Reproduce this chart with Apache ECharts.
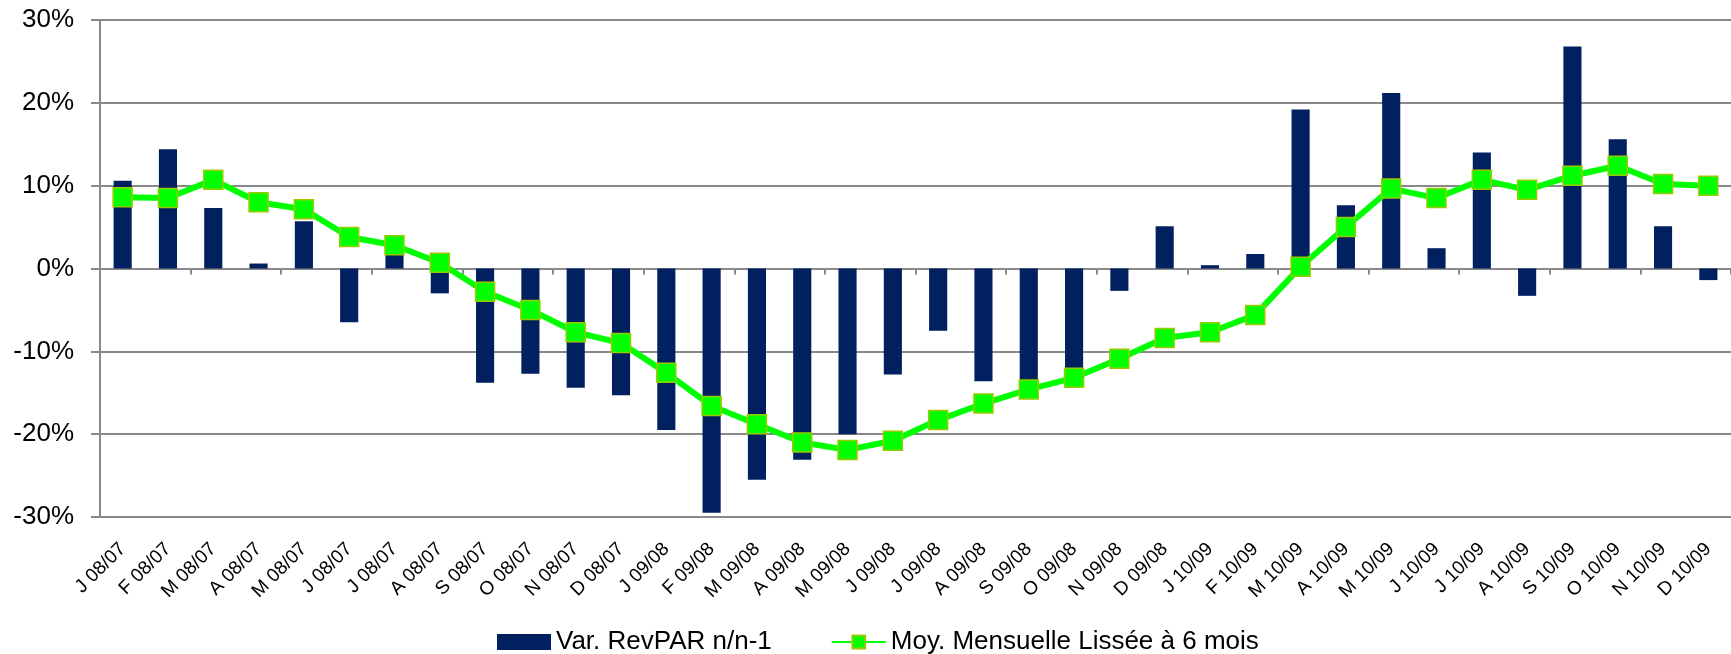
<!DOCTYPE html>
<html>
<head>
<meta charset="utf-8">
<script src="https://cdn.jsdelivr.net/npm/echarts@6/dist/echarts.min.js"></script>
<style>
  html, body { margin: 0; padding: 0; background: #fff; }
  #main { width: 1731px; height: 654px; }
</style>
</head>
<body>
<div id="main"></div>
<script>
var months = ['J', 'F', 'M', 'A', 'M', 'J', 'J', 'A', 'S', 'O', 'N', 'D'];
var years = ['08/07', '09/08', '10/09'];
var categories = [];
years.forEach(function (y) {
    months.forEach(function (m) { categories.push(m + ' ' + y); });
});

// Var. RevPAR n/n-1 (%)
var revparVar = [10.6, 14.4, 7.3, 0.6, 5.7, -6.5, 2.0, -3.0, -13.8, -12.7, -14.4, -15.3,
                 -19.5, -29.5, -25.5, -23.1, -20.0, -12.8, -7.5, -13.6, -14.0, -12.8, -2.7, 5.1,
                 0.4, 1.75, 19.2, 7.65, 21.2, 2.45, 14.0, -3.3, 26.8, 15.6, 5.1, -1.4];
// Moy. Mensuelle Lissée à 6 mois (%)
var lissee = [8.6, 8.5, 10.7, 8.0, 7.15, 3.8, 2.8, 0.7, -2.8, -5.0, -7.7, -9.0,
              -12.6, -16.6, -18.8, -21.0, -21.9, -20.8, -18.3, -16.3, -14.6, -13.2, -10.9, -8.4,
              -7.7, -5.6, 0.2, 5.0, 9.65, 8.5, 10.7, 9.5, 11.2, 12.4, 10.2, 10.0];

var gridColor = '#898989';
var font = '"Liberation Sans", Arial, sans-serif';

var myChart = echarts.init(document.getElementById('main'), null, { renderer: 'canvas' });

var option = {
    animation: false,
    grid: { left: 100, right: -10, top: 20, bottom: 137, containLabel: false },
    legend: {
        left: 492,
        top: 624,
        itemWidth: 54,
        itemHeight: 16,
        itemGap: 59,
        textStyle: { fontFamily: font, fontSize: 26, color: '#000' },
        data: [
            { name: 'Var. RevPAR n/n-1', icon: 'rect' },
            { name: 'Moy. Mensuelle Lissée à 6 mois' }
        ]
    },
    xAxis: [
        {
            type: 'category',
            data: categories,
            position: 'bottom',
            axisLine: { show: false, onZero: false },
            axisTick: { show: false },
            axisLabel: {
                interval: 0,
                rotate: 45,
                margin: 29,
                fontFamily: font,
                fontSize: 19,
                color: '#000'
            }
        },
        {
            type: 'category',
            data: categories,
            position: 'bottom',
            axisLine: { show: true, onZero: true, lineStyle: { color: gridColor, width: 2 } },
            axisTick: { show: true, length: 6, lineStyle: { color: gridColor, width: 2 } },
            axisLabel: { show: false }
        }
    ],
    yAxis: {
        type: 'value',
        min: -30,
        max: 30,
        interval: 10,
        axisLine: { show: true, lineStyle: { color: gridColor, width: 2 } },
        axisTick: { show: true, length: 9, lineStyle: { color: gridColor, width: 2 } },
        splitLine: { show: true, lineStyle: { color: gridColor, width: 2 } },
        axisLabel: {
            formatter: '{value}%',
            margin: 26,
            fontFamily: font,
            fontSize: 26,
            color: '#000'
        }
    },
    series: [
        {
            name: 'Var. RevPAR n/n-1',
            type: 'bar',
            xAxisIndex: 0,
            data: revparVar,
            barWidth: '40%',
            itemStyle: { color: '#002060' }
        },
        {
            name: 'Moy. Mensuelle Lissée à 6 mois',
            type: 'line',
            xAxisIndex: 1,
            data: lissee,
            symbol: 'rect',
            symbolSize: 19,
            lineStyle: { color: '#00ff00', width: 6 },
            itemStyle: { color: '#00ff00', borderColor: '#99cc00', borderWidth: 1.5 }
        }
    ]
};

myChart.setOption(option);
window.addEventListener('resize', myChart.resize);
</script>
</body>
</html>
